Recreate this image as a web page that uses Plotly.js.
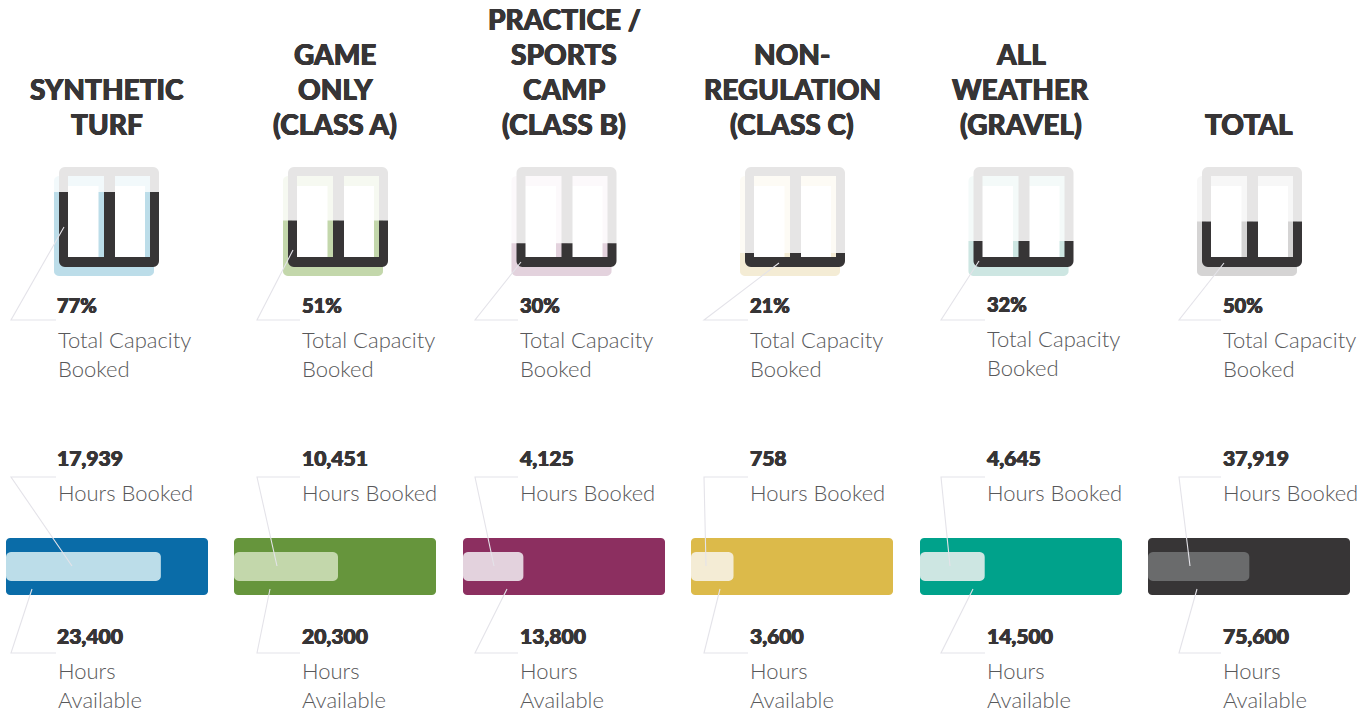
<!DOCTYPE html>
<html><head><meta charset="utf-8">
<script src="https://cdn.plot.ly/plotly-3.0.1.min.js"></script>
<style>html,body{margin:0;padding:0;background:#fff}#c{width:1372px;height:713px}</style>
</head><body><div id="c"></div><script>
// ---- data ----
const titles = [["SYNTHETIC","TURF"],["GAME","ONLY","(CLASS A)"],["PRACTICE /","SPORTS","CAMP","(CLASS B)"],["NON-","REGULATION","(CLASS C)"],["ALL","WEATHER","(GRAVEL)"],["TOTAL"]];
const capacityPct = [77,51,30,21,32,50];
const hoursBooked = [17939,10451,4125,758,4645,37919];
const hoursAvailable = [23400,20300,13800,3600,14500,75600];
const strongColors = ["#0a6ca8","#66953c","#8c2f60","#dcba4a","#00a28b","#373536"];
const lightColors = ["#bcdde9","#c3d7ab","#e3d2dd","#f4ecd5","#cde6e2","#d5d4d4"];
const faintColors = ["#f2f9fb","#f6f9f1","#fcf9fb","#fdfbf5","#f4faf9","#f7f7f7"];
const barFillColors = ["#bcdde9","#c3d7ab","#e3d2dd","#f4ecd5","#cde6e2","#6a6b6c"];

// ---- layout constants (pixels) ----
const W=1372,H=713,INK="#373536",BODY="#58585a",LINE="#e4e3e9",GRAY="#e6e5e5";
const barLeft=[6,234,463,691,920,1148], BAR_W=202;
const frameLeft=[59,288,516.5,745,973.5,1202], FRAME=100;
const titleCx=[107,335,564,792,1020.5,1249];
const textX=[58,302,520,750,987,1223];
const numX=[57,302,520,750,987,1223];
const pctDy=[0,0,0,0,-1,0];
const leaders=[
 [[64,227],[11,320],[56,320]],[[72,566],[11,477],[56,477]],[[32,589],[11,653],[56,653]],
 [[293,250],[257,320],[300,320]],[[277,566],[257,477],[300,477]],[[270,589],[257,653],[300,653]],
 [[521,262],[475,320],[518,320]],[[494,566],[475,477],[518,477]],[[507,589],[475,653],[518,653]],
 [[779,263],[704,320],[748,320]],[[706,566],[704,477],[748,477]],[[720,589],[704,653],[748,653]],
 [[979,261],[941,320],[985,320]],[[950,566],[941,477],[985,477]],[[973,589],[941,653],[985,653]],
 [[1224,263],[1179,320],[1221,320]],[[1190,566],[1179,477],[1221,477]],[[1197,589],[1179,653],[1221,653]]];

// ---- geometry helpers ----
function arc(cx,cy,rx,ry,a0,a1){const p=[];for(let i=0;i<=6;i++){const a=(a0+(a1-a0)*i/6)*Math.PI/180;p.push([cx+rx*Math.cos(a),cy+ry*Math.sin(a)]);}return p;}
function rrect(x0,x1,y0,y1,rx,ry,top=true,bottom=true){
  let p=[];
  if(top){p=p.concat(arc(x0+rx,y0+ry,rx,ry,180,270),arc(x1-rx,y0+ry,rx,ry,270,360));}else{p.push([x0,y0],[x1,y0]);}
  if(bottom){p=p.concat(arc(x1-rx,y1-ry,rx,ry,0,90),arc(x0+rx,y1-ry,rx,ry,90,180));}else{p.push([x1,y1],[x0,y1]);}
  return p;
}
function comb(x,outer,inner,end,isBottom){
  const r=6,l=x,R=x+FRAME;
  let p=[[l,end]];
  p=p.concat(isBottom?arc(l+r,outer-r,r,r,180,90):arc(l+r,outer+r,r,r,180,270));
  p=p.concat(isBottom?arc(R-r,outer-r,r,r,90,0):arc(R-r,outer+r,r,r,270,360));
  p.push([R,end],[x+91,end],[x+91,inner],[x+56,inner],[x+56,end],[x+45,end],[x+45,inner],[x+9,inner],[x+9,end]);
  return p;
}
const levelY=pct=>276-pct*1.09;

const traces=[];
function poly(pts,color,xa,ya){
  traces.push({type:"scatter",mode:"lines",x:pts.map(p=>p[0]).concat(pts[0][0]),y:pts.map(p=>p[1]).concat(pts[0][1]),
    fill:"toself",fillcolor:color,line:{width:0,color:color,simplify:false},xaxis:xa||"x",yaxis:ya||"y",hoverinfo:"skip",showlegend:false});
}
const layout={width:W,height:H,margin:{l:0,r:0,t:0,b:0},paper_bgcolor:"#fff",plot_bgcolor:"rgba(0,0,0,0)",showlegend:false,
  xaxis:{range:[0,W],visible:false,fixedrange:true,domain:[0,1]},
  yaxis:{range:[H,0],visible:false,fixedrange:true,domain:[0,1]},
  annotations:[],shapes:[]};

capacityPct.forEach((pct,i)=>{
  const fx=frameLeft[i],tx=fx-5,lvl=levelY(pct);
  poly(rrect(tx,tx+FRAME,176,276,5,5),faintColors[i]);
  poly(rrect(tx,tx+FRAME,lvl,276,5,5,false,true),lightColors[i]);
  poly(rrect(fx+4,fx+39.5,186,266,0.1,0.1),"#ffffff");
  poly(rrect(fx+51,fx+86,186,266,0.1,0.1),"#ffffff");
  poly(comb(fx,167,176,lvl,false),GRAY);
  poly(comb(fx,267,257,lvl,true),INK);
  const key="xaxis"+(i+2);
  layout[key]={domain:[barLeft[i]/W,(barLeft[i]+BAR_W)/W],range:[0,hoursAvailable[i]],visible:false,fixedrange:true,anchor:"y"};
  const u=hoursAvailable[i]/BAR_W;
  poly(rrect(0,hoursAvailable[i],538,595,4*u,4),strongColors[i],"x"+(i+2));
  poly(rrect(0,hoursBooked[i],552,581,5*u,5),barFillColors[i],"x"+(i+2));
});
leaders.forEach(l=>layout.shapes.push({type:"path",xref:"x",yref:"y",layer:"above",
  path:"M"+l.map(p=>p[0]+","+p[1]).join(" L"),line:{color:LINE,width:1.1},fillcolor:"rgba(0,0,0,0)"}));

const THICK="0.45px 0 0 #373536,-0.45px 0 0 #373536,0 0.3px 0 #373536";
function txt(x,y,text,size,color,weight,anchor,shadow){
  const f={family:"Lato, sans-serif",size:size,color:color,weight:weight};
  if(shadow)f.shadow=shadow;
  layout.annotations.push({xref:"x",yref:"y",x:x,y:y,text:text,showarrow:false,xanchor:anchor||"left",yanchor:"middle",font:f,borderpad:0,borderwidth:0});
}
const fmt=n=>n.toLocaleString("en-US");
titles.forEach((lines,i)=>{
  const n=lines.length;
  lines.forEach((t,k)=>txt(titleCx[i],123.5-(n-1-k)*34.7,t,28,INK,900,"center",THICK));
  const x=textX[i],nx=numX[i],d=pctDy[i];
  txt(nx,305+d,capacityPct[i]+"%",20,INK,900,"left",THICK);
  txt(x,339.5+d,"Total Capacity",22,BODY,300);
  txt(x,368.5+d,"Booked",22,BODY,300);
  txt(nx,457,fmt(hoursBooked[i]),21,INK,900,"left",THICK);
  txt(x,492,"Hours Booked",22,BODY,300);
  txt(nx,635,fmt(hoursAvailable[i]),21,INK,900,"left",THICK);
  txt(x,670.5,"Hours",22,BODY,300);
  txt(x,699.5,"Available",22,BODY,300);
});
Plotly.newPlot("c",traces,layout,{staticPlot:true,displayModeBar:false});
</script></body></html>
